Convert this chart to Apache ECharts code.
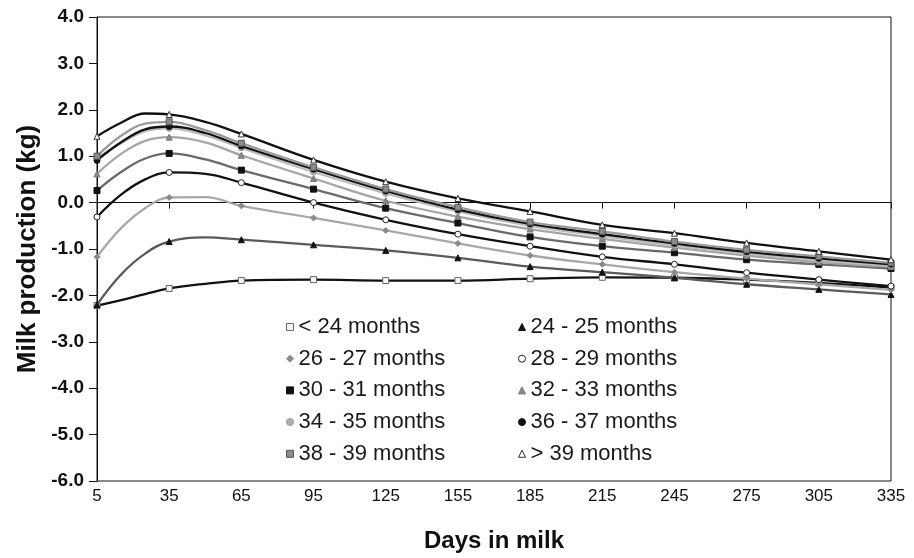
<!DOCTYPE html>
<html>
<head>
<meta charset="utf-8">
<title>Milk production by age at first calving</title>
<script src="https://cdn.jsdelivr.net/npm/echarts@6/dist/echarts.min.js"></script>
<style>
  html, body { margin: 0; padding: 0; background: #fff; }
  #chart { width: 914px; height: 558px; }
</style>
</head>
<body>
<div id="chart"></div>
<script>
// Days in milk at which the curves are sampled
const days = [5, 15, 25, 35, 50, 65, 95, 125, 155, 185, 215, 245, 275, 305, 335];
// Days that carry a marker and a tick
const markerDays = [5, 35, 65, 95, 125, 155, 185, 215, 245, 275, 305, 335];

const yTicks = [-6, -5, -4, -3, -2, -1, 0, 1, 2, 3, 4];

// Milk production deviation (kg) per age-at-first-calving group
const lt24   = [-2.22, -2.10, -1.97, -1.85, -1.75, -1.68, -1.66, -1.68, -1.68, -1.64, -1.61, -1.62, -1.66, -1.73, -1.83];
const m24_25 = [-2.20, -1.55, -1.10, -0.84, -0.75, -0.80, -0.91, -1.03, -1.19, -1.38, -1.50, -1.62, -1.76, -1.87, -1.98];
const m26_27 = [-1.17, -0.55, -0.12, 0.11, 0.12, -0.07, -0.33, -0.60, -0.88, -1.14, -1.33, -1.50, -1.64, -1.76, -1.88];
const m28_29 = [-0.31, 0.17, 0.50, 0.65, 0.62, 0.43, 0.00, -0.37, -0.68, -0.94, -1.17, -1.33, -1.51, -1.66, -1.80];
const m30_31 = [0.26, 0.66, 0.95, 1.06, 0.93, 0.70, 0.29, -0.12, -0.44, -0.74, -0.94, -1.08, -1.23, -1.33, -1.42];
const m32_33 = [0.62, 1.05, 1.33, 1.41, 1.30, 1.02, 0.52, 0.04, -0.30, -0.57, -0.78, -0.97, -1.14, -1.28, -1.38];
const m34_35 = [0.95, 1.28, 1.54, 1.60, 1.45, 1.18, 0.66, 0.20, -0.19, -0.50, -0.72, -0.92, -1.10, -1.24, -1.36];
const m36_37 = [0.91, 1.30, 1.58, 1.64, 1.50, 1.22, 0.72, 0.25, -0.15, -0.46, -0.68, -0.88, -1.06, -1.20, -1.33];
const m38_39 = [1.00, 1.44, 1.70, 1.74, 1.56, 1.28, 0.76, 0.29, -0.10, -0.42, -0.62, -0.84, -1.02, -1.16, -1.30];
const gt39   = [1.43, 1.72, 1.92, 1.90, 1.74, 1.48, 0.92, 0.45, 0.09, -0.19, -0.48, -0.66, -0.87, -1.05, -1.23];

const groupNames = ['< 24 months', '24 - 25 months', '26 - 27 months', '28 - 29 months', '30 - 31 months',
                    '32 - 33 months', '34 - 35 months', '36 - 37 months', '38 - 39 months', '> 39 months'];
const groupValues = [lt24, m24_25, m26_27, m28_29, m30_31, m32_33, m34_35, m36_37, m38_39, gt39];

// Line colour, marker shape, marker fill and marker outline for each group
const styles = [
  { line: '#111', symbol: 'rect',     fill: '#f4f4f4', border: '#666' },
  { line: '#5a5a5a', symbol: 'triangle', fill: '#111', border: '#111' },
  { line: '#a8a8a8', symbol: 'diamond',  fill: '#8a8a8a', border: '#8a8a8a' },
  { line: '#111', symbol: 'circle',   fill: '#fff', border: '#222' },
  { line: '#6a6a6a', symbol: 'rect',     fill: '#111', border: '#111' },
  { line: '#a5a5a5', symbol: 'triangle', fill: '#8a8a8a', border: '#777' },
  { line: '#bcbcbc', symbol: 'circle',   fill: '#b0b0b0', border: '#999' },
  { line: '#111', symbol: 'circle',   fill: '#111', border: '#111' },
  { line: '#9a9a9a', symbol: 'rect',     fill: '#8c8c8c', border: '#555' },
  { line: '#111', symbol: 'triangle', fill: '#fff', border: '#333' }
];

const series = groupNames.map((name, i) => ({
  name: name,
  type: 'line',
  smooth: 0.4,
  showAllSymbol: true,
  symbol: styles[i].symbol,
  symbolSize: (v) => (markerDays.indexOf(v[0]) >= 0 ? 6 : 0),
  lineStyle: { color: styles[i].line, width: 2.3 },
  itemStyle: { color: styles[i].fill, borderColor: styles[i].border, borderWidth: 1 },
  emphasis: { disabled: true },
  z: 2 + i,
  data: days.map((d, k) => [d, groupValues[i][k]])
}));

const legendText = { fontFamily: 'Liberation Sans, Arial, sans-serif', fontSize: 22, color: '#1a1a1a', padding: [0, 0, 0, 0] };
const makeLegend = (left, idx) => ({
  orient: 'vertical',
  left: left,
  top: 311,
  itemGap: 9.7,
  itemWidth: 7,
  itemHeight: 7,
  selectedMode: false,
  textStyle: legendText,
  data: idx.map(i => ({
    name: groupNames[i],
    icon: styles[i].symbol,
    itemStyle: { color: styles[i].fill, borderColor: styles[i].border, borderWidth: 1 }
  }))
});

const chart = echarts.init(document.getElementById('chart'), null, { renderer: 'canvas' });
chart.setOption({
  animation: false,
  backgroundColor: '#fff',
  grid: { left: 97, right: 23, top: 17, bottom: 75, show: true, borderColor: '#111', borderWidth: 1 },
  legend: [makeLegend(281, [0, 2, 4, 6, 8]), makeLegend(513, [1, 3, 5, 7, 9])],
  xAxis: {
    type: 'value',
    min: 5,
    max: 335,
    name: 'Days in milk',
    nameLocation: 'middle',
    nameGap: 48,
    nameTextStyle: { fontFamily: 'Liberation Sans, Arial, sans-serif', fontSize: 24, fontWeight: 'bold', color: '#111' },
    axisLine: { lineStyle: { color: '#111', width: 1 } },
    axisTick: { show: true, length: 6, customValues: markerDays, lineStyle: { color: '#111' } },
    axisLabel: {
      customValues: markerDays,
      margin: 7,
      fontFamily: 'Liberation Sans, Arial, sans-serif',
      fontSize: 17,
      color: '#111'
    },
    splitLine: { show: false }
  },
  yAxis: {
    type: 'value',
    min: -6,
    max: 4,
    interval: 1,
    name: 'Milk production (kg)',
    nameLocation: 'middle',
    nameGap: 56,
    nameTextStyle: { fontFamily: 'Liberation Sans, Arial, sans-serif', fontSize: 26, fontWeight: 'bold', color: '#111' },
    axisLine: { show: true, lineStyle: { color: '#111', width: 1 } },
    axisTick: { show: true, length: 8, lineStyle: { color: '#111' } },
    axisLabel: {
      margin: 13,
      fontFamily: 'Liberation Sans, Arial, sans-serif',
      fontSize: 19,
      fontWeight: 'bold',
      color: '#111',
      formatter: (v) => yTicks.indexOf(v) >= 0 ? v.toFixed(1) : ''
    },
    splitLine: { show: false }
  },
  series: series
});
</script>
</body>
</html>
